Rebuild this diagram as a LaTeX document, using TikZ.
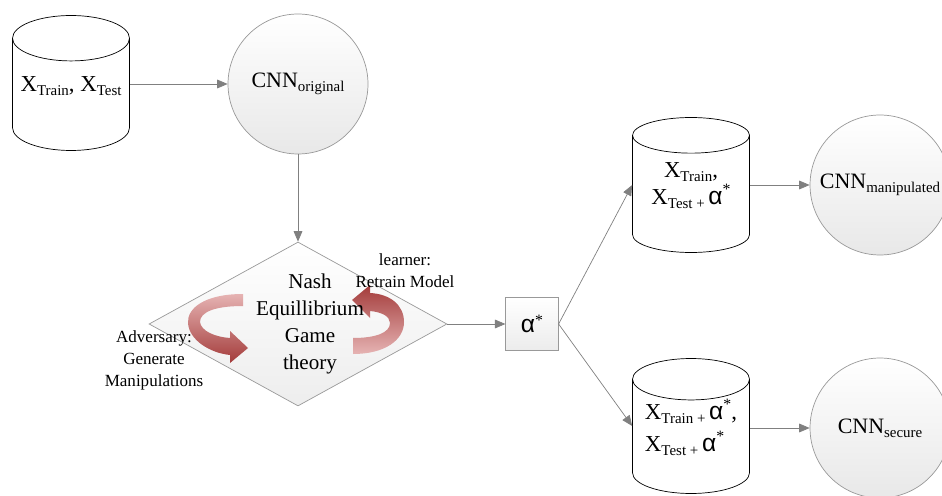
\documentclass[tikz,border=0pt]{standalone}
\usepackage{fontspec}
\setmainfont{Liberation Serif}
\newfontfamily\greekfont{Liberation Sans}
\usetikzlibrary{shapes.geometric,arrows.meta}
\definecolor{arrowdark}{HTML}{A33B3A}
\definecolor{arrowpale}{HTML}{E6B3B3}
\newcommand{\lowtxt}[1]{\raisebox{-0.4ex}{\fontsize{8.5}{9}\selectfont #1}}
\newcommand{\alst}{{\fontsize{14}{14}\greekfont α}\raisebox{0.9ex}{\fontsize{9}{9}\selectfont *}}
\newcommand{\dbtext}[2][c]{\raisebox{4.5pt}[\height][\depth]{\begin{tabular}{@{}#1@{}}#2\end{tabular}}}
\tikzset{
	db/.style={cylinder, shape border rotate=90, aspect=0.45, draw, fill=white, minimum width=2.34cm, minimum height=2.7cm, inner sep=0pt, anchor=shape center, font=\fontsize{13}{13}\selectfont},
	net/.style={circle, draw=gray!80, top color=white, bottom color=gray!18, minimum size=2.8cm, font=\fontsize{12.5}{14}\selectfont},
	flow/.style={draw=gray, -{Triangle[length=6pt,width=5pt]}},
	note/.style={align=center, font=\fontsize{9.7}{12.5}\selectfont},
}
\begin{document}
\begin{tikzpicture}[x=0.02cm, y=-0.02cm]
	\useasboundingbox (0,0) rectangle (942,496);
	\node[db] (data) at (71,83) {\dbtext{X\lowtxt{Train}, X\lowtxt{Test}}};
	\node[net] (orig) at (298,84) {CNN\lowtxt{original}};
	\node[diamond, draw=gray!80, top color=white, bottom color=gray!14, minimum width=5.96cm, minimum height=3.28cm, inner sep=0pt] (game) at (298,324) {};

	\shade[top color=arrowpale, bottom color=arrowdark] (243,294) .. controls (205,294) and (187,308) .. (188,323) .. controls (189,340) and (210,353) .. (230,355) -- (230,363) -- (248,348) -- (230,331) -- (230,338) .. controls (215,337) and (201,331) .. (200,322) .. controls (200,312) and (215,306) .. (243,306) -- cycle;
	\shade[top color=arrowdark, bottom color=arrowpale] (353,354) .. controls (385,354) and (404,340) .. (404,322) .. controls (404,305) and (390,294) .. (370,293) -- (370,285) -- (352,300) -- (370,318) -- (370,311) .. controls (381,312) and (390,316) .. (390,323) .. controls (390,333) and (375,338) .. (353,338) -- cycle;

	\node[align=center, font=\fontsize{12}{15.4}\selectfont] (eq) at (310,324) {Nash\\Equillibrium\\Game\\theory};
	\node[note] (learner) at (405,271) {learner:\\Retrain Model};
	\node[note] (adv) at (154,360) {Adversary:\\Generate\\Manipulations};

	\node[draw=gray!80, top color=white, bottom color=gray!15, minimum size=1.05cm, inner sep=0pt] (alpha) at (532,324) {\alst};
	\node[db] (attack) at (691,185) {\dbtext{X\lowtxt{Train},\\X\lowtxt{Test + }\alst}};
	\node[db] (defend) at (691,426) {\dbtext[l]{X\lowtxt{Train + }\alst,\\[3pt]X\lowtxt{Test + }\alst}};
	\node[net] (manip) at (880,185) {CNN\lowtxt{manipulated}};
	\node[net] (secure) at (880,428) {CNN\lowtxt{secure}};

	\draw[flow] (data.east |- orig) -- (orig);
	\draw[flow] (orig) -- (game);
	\draw[flow] (game) -- (alpha);
	\draw[flow] (alpha.east) -- (attack.west |- attack.shape center);
	\draw[flow] (alpha.east) -- (defend.west |- defend.shape center);
	\draw[flow] (attack.east |- manip) -- (manip);
	\draw[flow] (defend.east |- secure) -- (secure);
\end{tikzpicture}
\end{document}
